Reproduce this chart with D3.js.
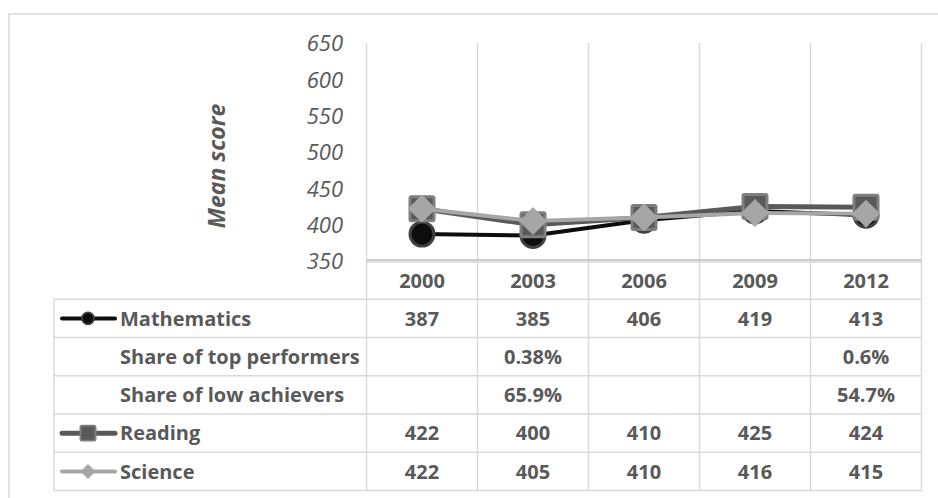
<!DOCTYPE html>
<html>
<head>
<meta charset="utf-8">
<script src="https://cdn.jsdelivr.net/npm/d3@7"></script>
<style>
  html, body { margin: 0; padding: 0; background: #fff; }
  svg { display: block; }
  text { font-family: "Open Sans", "Noto Sans", sans-serif; }
</style>
</head>
<body>
<svg id="chart" width="938" height="498"></svg>
<script>
// PISA mean scores by survey year
const years = ["2000", "2003", "2006", "2009", "2012"];
const mathematics = [387, 385, 406, 419, 413];
const reading = [422, 400, 410, 425, 424];
const science = [422, 405, 410, 416, 415];
const topPerformers = ["", "0.38%", "", "", "0.6%"];
const lowAchievers = ["", "65.9%", "", "", "54.7%"];
const yTicks = [350, 400, 450, 500, 550, 600, 650];
const yTitle = "Mean score";

const svg = d3.select("#chart");
const textColor = "#595959";
const gridColor = "#d9d9d9";

// frame
svg.append("rect")
  .attr("x", 9).attr("y", 14)
  .attr("width", 940).attr("height", 500)
  .attr("fill", "none").attr("stroke", gridColor).attr("stroke-width", 1.5);

const plot = { left: 366.5, right: 921.5, top: 43, bottom: 261 };
const x = d3.scaleBand().domain(years).range([plot.left, plot.right]).padding(0);
const y = d3.scaleLinear().domain([350, 650]).range([plot.bottom, plot.top]);

// table layout
const tableLeft = 54;
const rowH = (490.5 - plot.bottom) / 6;
const rowY = i => plot.bottom + rowH * i; // i = 0 header top

// vertical gridlines across plot and table
const bounds = years.map(d => x(d)).concat([plot.right]);
svg.append("g").selectAll("line").data(bounds).join("line")
  .attr("x1", d => d).attr("x2", d => d)
  .attr("y1", plot.top).attr("y2", rowY(6))
  .attr("stroke", gridColor).attr("stroke-width", 1.5);

// table horizontal lines
const rowLines = d3.range(1, 7);
svg.append("g").selectAll("line").data(rowLines).join("line")
  .attr("x1", tableLeft).attr("x2", plot.right)
  .attr("y1", d => rowY(d)).attr("y2", d => rowY(d))
  .attr("stroke", gridColor).attr("stroke-width", 1.5);
svg.append("line")
  .attr("x1", tableLeft).attr("x2", tableLeft)
  .attr("y1", rowY(1)).attr("y2", rowY(6))
  .attr("stroke", gridColor).attr("stroke-width", 1.5);
svg.append("line")
  .attr("x1", plot.left).attr("x2", plot.right)
  .attr("y1", plot.bottom + 1).attr("y2", plot.bottom + 1)
  .attr("stroke", gridColor).attr("stroke-width", 1.5);

// x axis line
svg.append("line")
  .attr("x1", plot.left).attr("x2", plot.right)
  .attr("y1", plot.bottom - 1).attr("y2", plot.bottom - 1)
  .attr("stroke", "#bfbfbf").attr("stroke-width", 1.5);

// y axis tick labels
const yAxis = d3.axisLeft(y).tickValues(yTicks).tickSize(0).tickPadding(0);
const ya = svg.append("g").attr("transform", `translate(343,0)`).call(yAxis);
ya.select(".domain").remove();
ya.selectAll("text")
  .attr("font-size", 22).attr("font-style", "italic")
  .attr("fill", textColor)
  .attr("dy", "0.36em");

svg.append("text")
  .attr("transform", "translate(217,166) rotate(-90)")
  .attr("text-anchor", "middle").attr("dy", "0.36em")
  .attr("font-size", 23).attr("font-weight", "bold").attr("font-style", "italic")
  .attr("fill", textColor).text(yTitle);

// series
const series = [
  { name: "Mathematics", values: mathematics, line: "#0d0d0d", fill: "#0d0d0d", stroke: "#404040", width: 4, shape: "circle" },
  { name: "Reading", values: reading, line: "#595959", fill: "#595959", stroke: "#7f7f7f", width: 5, shape: "square" },
  { name: "Science", values: science, line: "#a6a6a6", fill: "#a6a6a6", stroke: "#a6a6a6", width: 4, shape: "diamond" }
];
const cx = d => x(d) + x.bandwidth() / 2;
const line = d3.line().x((v, i) => cx(years[i])).y(v => y(v));

function drawMarker(g, s, px, py, size) {
  if (s.shape === "circle") {
    g.append("circle").attr("cx", px).attr("cy", py).attr("r", size / 2 - 1.5)
      .attr("fill", s.fill).attr("stroke", s.stroke).attr("stroke-width", size * 0.11);
  } else if (s.shape === "square") {
    const h = size / 2 - 1.5;
    g.append("rect").attr("x", px - h).attr("y", py - h).attr("width", 2 * h).attr("height", 2 * h)
      .attr("rx", 1.5)
      .attr("fill", s.fill).attr("stroke", s.stroke).attr("stroke-width", size * 0.11);
  } else {
    const h = size / 2;
    g.append("path")
      .attr("d", `M${px},${py - h}L${px + h},${py}L${px},${py + h}L${px - h},${py}Z`)
      .attr("fill", s.fill).attr("stroke", s.stroke).attr("stroke-width", 1).attr("stroke-linejoin", "round");
  }
}

const marks = svg.append("g");
series.forEach(s => {
  marks.append("path").datum(s.values).attr("d", line)
    .attr("fill", "none").attr("stroke", s.line).attr("stroke-width", s.width)
    .attr("stroke-linejoin", "round");
  s.values.forEach((v, i) => drawMarker(marks, s, cx(years[i]), y(v), 27));
});

// header row
const tableText = (sel) => sel.attr("font-size", 20).attr("font-weight", "bold").attr("fill", textColor);
svg.append("g").selectAll("text").data(years).join("text")
  .attr("x", d => cx(d)).attr("y", rowY(0) + rowH / 2 + 1)
  .attr("text-anchor", "middle").attr("dy", "0.36em")
  .call(tableText).text(d => d);

// body rows
const rows = [
  { label: "Mathematics", cells: mathematics.map(String), legend: series[0] },
  { label: "Share of top performers", cells: topPerformers },
  { label: "Share of low achievers", cells: lowAchievers },
  { label: "Reading", cells: reading.map(String), legend: series[1] },
  { label: "Science", cells: science.map(String), legend: series[2] }
];
rows.forEach((r, ri) => {
  const cyRow = rowY(ri + 1) + rowH / 2;
  svg.append("text").attr("x", 120).attr("y", cyRow).attr("dy", "0.36em")
    .call(tableText).text(r.label);
  svg.append("g").selectAll("text").data(r.cells).join("text")
    .attr("x", (d, i) => cx(years[i])).attr("y", cyRow).attr("dy", "0.36em")
    .attr("text-anchor", "middle").call(tableText).text(d => d);
  if (r.legend) {
    const s = r.legend;
    const lg = svg.append("g");
    lg.append("line").attr("x1", 62).attr("x2", 115).attr("y1", cyRow).attr("y2", cyRow)
      .attr("stroke", s.line).attr("stroke-width", s.width).attr("stroke-linecap", "round");
    const sz = s.shape === "circle" ? 15 : (s.shape === "square" ? 18 : 14);
    drawMarker(lg, s, 88, cyRow, sz);
  }
});
</script>
</body>
</html>
